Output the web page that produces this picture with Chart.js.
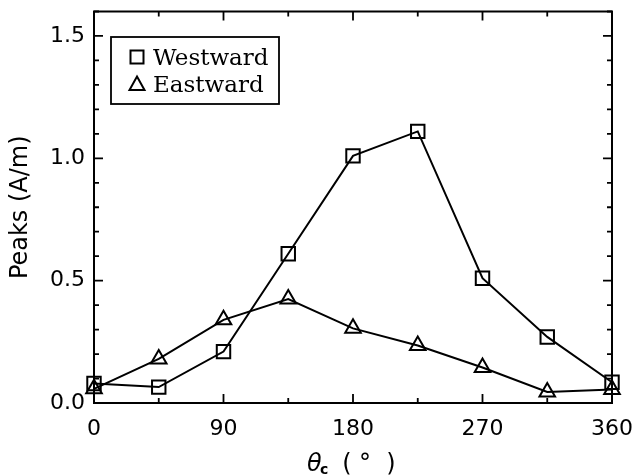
<!DOCTYPE html>
<html>
<head>
<meta charset="utf-8">
<script src="https://cdn.jsdelivr.net/npm/chart.js@4/dist/chart.umd.min.js"></script>
<style>
  html, body { margin: 0; padding: 0; background: #fff; }
</style>
</head>
<body>
<canvas id="peaksChart" width="636" height="475"></canvas>
<script>
// values
const angles = [0, 45, 90, 135, 180, 225, 270, 315, 360];
const westward = [0.08, 0.065, 0.21, 0.61, 1.01, 1.11, 0.51, 0.27, 0.085];
const eastward = [0.058, 0.18, 0.34, 0.425, 0.305, 0.235, 0.145, 0.045, 0.055];
const xTicks = [0, 90, 180, 270, 360];
const yTicks = [0.0, 0.5, 1.0, 1.5];
const seriesNames = ['Westward', 'Eastward'];

const tickFont = { family: 'DejaVu Sans', size: 22 };

// box, inward ticks, legend and x title in IDL style
const framePlugin = {
    id: 'frame',
    afterDatasetsDraw(chart) {
        const ctx = chart.ctx;
        const a = chart.chartArea;
        const xs = chart.scales.x;
        const ys = chart.scales.y;
        ctx.save();
        ctx.strokeStyle = '#000';
        ctx.fillStyle = '#000';

        ctx.lineWidth = 2;
        ctx.strokeRect(a.left, a.top, a.right - a.left, a.bottom - a.top);

        ctx.lineWidth = 1.8;
        ctx.beginPath();
        for (let v = 0; v <= 360; v += 45) {
            const px = xs.getPixelForValue(v);
            const len = v % 90 === 0 ? 9 : 5;
            ctx.moveTo(px, a.bottom); ctx.lineTo(px, a.bottom - len);
            ctx.moveTo(px, a.top); ctx.lineTo(px, a.top + len);
        }
        for (let i = 0; i <= 16; i++) {
            const py = ys.getPixelForValue(i / 10);
            const len = i % 5 === 0 ? 9 : 5;
            ctx.moveTo(a.left, py); ctx.lineTo(a.left + len, py);
            ctx.moveTo(a.right, py); ctx.lineTo(a.right - len, py);
        }
        ctx.stroke();

        // legend
        const lx = a.left + 17, ly = 37, lw = 168, lh = 67;
        ctx.lineWidth = 1.8;
        ctx.strokeRect(lx, ly, lw, lh);
        ctx.font = '23px "DejaVu Serif"';
        ctx.textBaseline = 'alphabetic';
        ctx.textAlign = 'left';
        const rows = [57, 84];
        ctx.lineWidth = 2;
        ctx.strokeRect(137 - 6.5, rows[0] - 6.5, 13, 13);
        ctx.beginPath();
        ctx.moveTo(137, rows[1] - 7.5);
        ctx.lineTo(137 + 7.5, rows[1] + 6);
        ctx.lineTo(137 - 7.5, rows[1] + 6);
        ctx.closePath();
        ctx.stroke();
        ctx.fillText(seriesNames[0], 153, rows[0] + 8);
        ctx.fillText(seriesNames[1], 153, rows[1] + 8);

        // x title: theta with subscript c, spaced like the original
        const cx = (a.left + a.right) / 2;
        const base = 471;
        ctx.font = 'italic 24px "DejaVu Sans"';
        ctx.fillText('θ', cx - 46, base);
        ctx.font = 'bold 14px "DejaVu Sans"';
        ctx.fillText('c', cx - 33, base + 3);
        ctx.font = '24px "DejaVu Sans"';
        ctx.textAlign = 'center';
        ctx.fillText('(', cx - 6, base);
        ctx.fillText('°', cx + 12, base);
        ctx.fillText(')', cx + 38, base);
        ctx.restore();
    }
};

const chart = new Chart(document.getElementById('peaksChart'), {
    type: 'line',
    data: {
        datasets: [{
            label: seriesNames[0],
            data: angles.map((a, i) => ({ x: a, y: westward[i] })),
            borderColor: '#000',
            borderWidth: 2,
            pointStyle: 'rect',
            pointRadius: 9.5,
            pointBorderWidth: 2,
            pointBorderColor: '#000',
            pointBackgroundColor: 'rgba(0,0,0,0)',
            tension: 0
        }, {
            label: seriesNames[1],
            data: angles.map((a, i) => ({ x: a, y: eastward[i] })),
            borderColor: '#000',
            borderWidth: 2,
            pointStyle: 'triangle',
            pointRadius: 9,
            pointBorderWidth: 2,
            pointBorderColor: '#000',
            pointBackgroundColor: 'rgba(0,0,0,0)',
            tension: 0
        }]
    },
    options: {
        responsive: false,
        animation: false,
        clip: false,
        layout: { padding: { left: 0, right: 24, top: 10, bottom: 0 } },
        plugins: {
            legend: { display: false },
            tooltip: { enabled: false }
        },
        scales: {
            x: {
                type: 'linear',
                min: 0,
                max: 360,
                grid: { display: false, drawTicks: false },
                border: { display: false },
                afterBuildTicks: s => { s.ticks = xTicks.map(v => ({ value: v })); },
                afterFit: s => { s.height = 72; s.paddingLeft = 0; s.paddingRight = 0; },
                ticks: {
                    color: '#000',
                    font: tickFont,
                    padding: 13,
                    maxRotation: 0,
                    autoSkip: false
                }
            },
            y: {
                type: 'linear',
                min: 0,
                max: 1.6,
                grid: { display: false, drawTicks: false },
                border: { display: false },
                afterBuildTicks: s => { s.ticks = yTicks.map(v => ({ value: v })); },
                afterFit: s => { s.width = 94; s.paddingTop = 0; s.paddingBottom = 0; },
                ticks: {
                    color: '#000',
                    font: tickFont,
                    padding: 9,
                    autoSkip: false,
                    callback: v => v.toFixed(1)
                },
                title: {
                    display: true,
                    text: 'Peaks (A/m)',
                    color: '#000',
                    font: { family: 'DejaVu Sans', size: 24 },
                    padding: { top: 6, bottom: 0 }
                }
            }
        }
    },
    plugins: [framePlugin]
});
</script>
</body>
</html>
